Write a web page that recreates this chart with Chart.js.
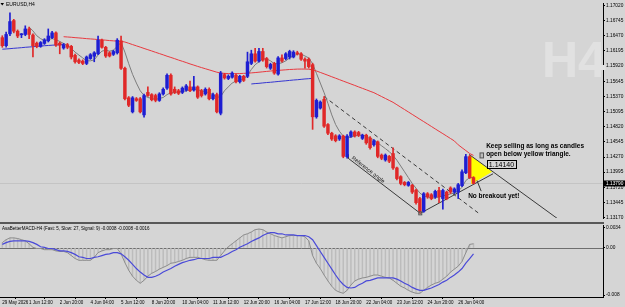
<!DOCTYPE html>
<html lang="en">
<head>
<meta charset="UTF-8">
<title>EURUSD,H4</title>
<script src="https://cdn.jsdelivr.net/npm/chart.js@4"></script>
<style>
  body { margin: 0; background: #d5d5d5; width: 625px; height: 307px; overflow: hidden; position: relative; }
  canvas { position: absolute; left: 0; }
  #main { top: 0; }
  #macd { top: 222px; }
</style>
</head>
<body>
<canvas id="main" width="625" height="222"></canvas>
<canvas id="macd" width="625" height="85"></canvas>
<script>
// H4 candles, bar 0 = 29 May 08:00
const opens = [1.16437,1.16291,1.16507,1.16747,1.16554,1.16489,1.16495,1.16595,1.16484,1.16337,
  1.16279,1.16332,1.16379,1.16437,1.16524,1.16337,1.16249,1.16309,1.16279,1.16116,
  1.16029,1.16011,1.15969,1.16057,1.16099,1.16144,1.16390,1.16262,1.16162,1.16134,
  1.16162,1.16379,1.15881,1.15345,1.15090,1.15328,1.15328,1.15035,1.15443,1.15403,
  1.15386,1.15298,1.15415,1.15521,1.15754,1.15500,1.15473,1.15443,1.15485,1.15543,
  1.15485,1.15543,1.15473,1.15415,1.15500,1.15328,1.15403,1.15065,1.15766,1.15696,
  1.15718,1.15754,1.15636,1.15736,1.15736,1.15969,1.16144,1.16011,1.16186,1.16057,
  1.15881,1.15969,1.15776,1.16069,1.16057,1.16086,1.16086,1.16162,1.16144,1.16046,
  1.16046,1.15946,1.15000,1.15158,1.15316,1.14860,1.14702,1.14655,1.14597,1.14650,
  1.14277,1.14645,1.14725,1.14715,1.14609,1.14667,1.14615,1.14492,1.14545,1.14305,
  1.14217,1.14282,1.14334,1.14072,1.13914,1.13809,1.13756,1.13756,1.13669,1.13516,
  1.13283,1.13604,1.13586,1.13546,1.13663,1.13516,1.13634,1.13709,1.13634,1.13634,
  1.13751,1.13984,1.14277,1.13896];
const highs = [1.16472,1.16537,1.16887,1.16770,1.16577,1.16512,1.16652,1.16630,1.16507,1.16358,
  1.16367,1.16419,1.16595,1.16551,1.16542,1.16358,1.16332,1.16332,1.16297,1.16139,
  1.16051,1.16034,1.16104,1.16148,1.16183,1.16467,1.16411,1.16279,1.16183,1.16209,
  1.16419,1.16467,1.15902,1.15368,1.15368,1.15351,1.15351,1.15412,1.15543,1.15421,
  1.15412,1.15438,1.15526,1.15780,1.15780,1.15543,1.15499,1.15543,1.15587,1.15648,
  1.15736,1.15561,1.15499,1.15526,1.15526,1.15430,1.15430,1.15824,1.15789,1.15762,
  1.15815,1.15780,1.15754,1.15754,1.16174,1.16209,1.16244,1.16244,1.16244,1.16078,
  1.15973,1.15990,1.16095,1.16127,1.16165,1.16209,1.16200,1.16191,1.16165,1.16069,
  1.16069,1.15973,1.15324,1.15289,1.15368,1.14878,1.14720,1.14676,1.14676,1.14667,
  1.14676,1.14746,1.14746,1.14737,1.14685,1.14685,1.14641,1.14588,1.14562,1.14326,
  1.14326,1.14299,1.14439,1.14089,1.13931,1.13826,1.13826,1.13774,1.13686,1.13537,
  1.13625,1.13625,1.13607,1.13669,1.13721,1.13686,1.13651,1.13730,1.13712,1.13791,
  1.14037,1.14317,1.14299,1.13914];
const lows = [1.16262,1.16262,1.16472,1.16524,1.16437,1.16437,1.16472,1.16419,1.16086,1.16253,
  1.16262,1.16314,1.16358,1.16419,1.16279,1.16144,1.16227,1.16235,1.16050,1.15973,
  1.15964,1.15946,1.15946,1.16043,1.15999,1.16130,1.16244,1.16078,1.16086,1.16113,
  1.16139,1.15859,1.15307,1.15184,1.15070,1.15280,1.15070,1.14995,1.15368,1.15289,
  1.15272,1.15280,1.15394,1.15499,1.15394,1.15421,1.15403,1.15421,1.15464,1.15456,
  1.15464,1.15333,1.15359,1.15394,1.15307,1.15307,1.15070,1.15035,1.15683,1.15675,
  1.15701,1.15613,1.15613,1.15640,1.15710,1.15946,1.15990,1.15990,1.16008,1.15885,
  1.15859,1.15771,1.15754,1.15990,1.16034,1.16050,1.16069,1.16121,1.16025,1.15881,
  1.15885,1.14772,1.14974,1.15140,1.14807,1.14676,1.14571,1.14545,1.14571,1.14256,
  1.14247,1.14624,1.14632,1.14641,1.14588,1.14501,1.14413,1.14466,1.14256,1.14221,
  1.14194,1.14168,1.14045,1.13853,1.13765,1.13747,1.13739,1.13607,1.13415,1.13253,
  1.13266,1.13520,1.13494,1.13520,1.13441,1.13324,1.13494,1.13607,1.13607,1.13516,
  1.13730,1.13966,1.13879,1.13783];
const closes = [1.16291,1.16495,1.16729,1.16554,1.16467,1.16498,1.16595,1.16495,1.16291,1.16279,
  1.16349,1.16397,1.16467,1.16524,1.16302,1.16302,1.16309,1.16262,1.16086,1.15999,
  1.15987,1.15969,1.16086,1.16127,1.16162,1.16390,1.16262,1.16104,1.16104,1.16186,
  1.16390,1.15881,1.15328,1.15210,1.15345,1.15298,1.15090,1.15386,1.15386,1.15310,
  1.15298,1.15415,1.15500,1.15754,1.15415,1.15443,1.15426,1.15521,1.15561,1.15473,
  1.15543,1.15356,1.15386,1.15500,1.15328,1.15403,1.15090,1.15794,1.15706,1.15736,
  1.15794,1.15636,1.15736,1.15661,1.15999,1.16144,1.16011,1.16186,1.16029,1.15911,
  1.15951,1.15794,1.16069,1.16011,1.16144,1.16186,1.16174,1.16144,1.16046,1.16011,
  1.15911,1.15000,1.15298,1.15268,1.14830,1.14702,1.14597,1.14567,1.14655,1.14282,
  1.14650,1.14725,1.14655,1.14667,1.14667,1.14527,1.14439,1.14567,1.14282,1.14247,
  1.14305,1.14194,1.14072,1.13879,1.13791,1.13768,1.13809,1.13634,1.13441,1.13283,
  1.13604,1.13546,1.13516,1.13646,1.13546,1.13663,1.13516,1.13634,1.13691,1.13768,
  1.14002,1.14277,1.13896,1.13790];

// moving averages (start index + values)
const redMAStart = 16;
const redMA = [1.16454,1.16449,1.16444,1.16437,1.16432,1.16426,1.16419,1.16414,1.16409,1.16402,
  1.16397,1.16391,1.16384,1.16379,1.16374,1.16370,1.16358,1.16335,1.16311,1.16288,
  1.16265,1.16241,1.16218,1.16195,1.16171,1.16148,1.16125,1.16100,1.16078,1.16055,
  1.16030,1.16008,1.15985,1.15960,1.15938,1.15915,1.15894,1.15873,1.15852,1.15831,
  1.15810,1.15794,1.15789,1.15785,1.15783,1.15783,1.15785,1.15789,1.15792,1.15797,
  1.15803,1.15810,1.15817,1.15824,1.15831,1.15838,1.15843,1.15848,1.15853,1.15859,
  1.15862,1.15866,1.15867,1.15867,1.15864,1.15853,1.15832,1.15806,1.15780,1.15754,
  1.15727,1.15701,1.15675,1.15648,1.15622,1.15596,1.15570,1.15543,1.15517,1.15491,
  1.15464,1.15438,1.15403,1.15368,1.15333,1.15298,1.15263,1.15219,1.15175,1.15132,
  1.15088,1.15044,1.15000,1.14956,1.14913,1.14869,1.14825,1.14781,1.14737,1.14694,
  1.14650,1.14606,1.14562,1.14492,1.14439,1.14387,1.14334,1.14299];
const greyMAStart = 7;
const greyMA = [1.16630,1.16559,1.16472,1.16419,1.16384,1.16402,1.16419,1.16402,1.16367,1.16332,
  1.16297,1.16244,1.16174,1.16121,1.16069,1.16016,1.16016,1.16034,1.16121,1.16192,
  1.16209,1.16192,1.16209,1.16279,1.16349,1.16174,1.15964,1.15771,1.15613,1.15473,
  1.15386,1.15351,1.15333,1.15316,1.15333,1.15351,1.15403,1.15438,1.15438,1.15456,
  1.15456,1.15473,1.15491,1.15508,1.15491,1.15473,1.15456,1.15438,1.15403,1.15351,
  1.15368,1.15473,1.15543,1.15613,1.15648,1.15666,1.15683,1.15754,1.15859,1.15946,
  1.15999,1.16051,1.16051,1.16016,1.15964,1.15964,1.15981,1.16016,1.16069,1.16104,
  1.16139,1.16139,1.16104,1.16069,1.15964,1.15789,1.15613,1.15438,1.15245,1.15035,
  1.14860,1.14737,1.14650,1.14615,1.14632,1.14650,1.14667,1.14667,1.14650,1.14615,
  1.14580,1.14527,1.14474,1.14422,1.14369,1.14299,1.14212,1.14107,1.14002,1.13896,
  1.13791,1.13704,1.13616,1.13564,1.13546,1.13529,1.13529,1.13546,1.13564,1.13581,
  1.13599,1.13616,1.13651,1.13721,1.13844,1.13896,1.13896];
const blueMAStart1 = 0;
const blueMA1 = [1.16227,1.16232,1.16237,1.16244,1.16249,1.16255,1.16262,1.16267,1.16272,1.16279,
  1.16284,1.16290,1.16295,1.16300,1.16304,1.16307,1.16311];
const blueMAStart2 = 65;
const blueMA2 = [1.15596,1.15603,1.15608,1.15615,1.15622,1.15627,1.15634,1.15641,1.15648,1.15654,
  1.15661,1.15668,1.15673,1.15680,1.15687,1.15692,1.15699];

// MACD panel
const macdMain = [0.0009,0.0014,0.0017,0.0017,0.0016,0.0014,0.0012,0.0007,0.0001,-0.0001,
  -0.0001,-0.0003,-0.0003,-0.0003,-0.0005,-0.0006,-0.0006,-0.0008,-0.0013,-0.0018,
  -0.0021,-0.0021,-0.0021,-0.0021,-0.0016,-0.0008,-0.0005,-0.0003,-0.0003,-0.0001,
  -0.0001,-0.0010,-0.0025,-0.0038,-0.0048,-0.0055,-0.0060,-0.0055,-0.0048,-0.0043,
  -0.0040,-0.0036,-0.0033,-0.0030,-0.0026,-0.0025,-0.0023,-0.0021,-0.0018,-0.0016,
  -0.0016,-0.0016,-0.0018,-0.0020,-0.0021,-0.0021,-0.0021,-0.0013,-0.0005,0.0002,
  0.0007,0.0012,0.0017,0.0022,0.0024,0.0027,0.0031,0.0032,0.0031,0.0027,
  0.0024,0.0021,0.0019,0.0017,0.0019,0.0021,0.0021,0.0021,0.0021,0.0019,
  0.0012,-0.0013,-0.0026,-0.0035,-0.0046,-0.0056,-0.0065,-0.0072,-0.0075,-0.0077,
  -0.0072,-0.0063,-0.0056,-0.0053,-0.0051,-0.0050,-0.0048,-0.0046,-0.0046,-0.0048,
  -0.0050,-0.0051,-0.0055,-0.0060,-0.0065,-0.0068,-0.0072,-0.0075,-0.0077,-0.0077,
  -0.0072,-0.0067,-0.0063,-0.0060,-0.0058,-0.0053,-0.0048,-0.0041,-0.0036,-0.0031,
  -0.0023,-0.0008,0.0006,0.0007];
const macdSignal = [0.0006,0.0009,0.0011,0.0012,0.0012,0.0012,0.0012,0.0011,0.0009,0.0006,
  0.0002,0.0001,-0.0001,-0.0001,-0.0003,-0.0005,-0.0005,-0.0006,-0.0008,-0.0011,
  -0.0015,-0.0016,-0.0018,-0.0018,-0.0016,-0.0015,-0.0013,-0.0011,-0.0010,-0.0008,
  -0.0008,-0.0010,-0.0015,-0.0021,-0.0028,-0.0035,-0.0041,-0.0046,-0.0050,-0.0050,
  -0.0048,-0.0045,-0.0041,-0.0038,-0.0035,-0.0031,-0.0028,-0.0025,-0.0023,-0.0021,
  -0.0020,-0.0018,-0.0018,-0.0018,-0.0018,-0.0016,-0.0016,-0.0016,-0.0013,-0.0010,
  -0.0006,-0.0003,0.0001,0.0004,0.0007,0.0011,0.0014,0.0017,0.0021,0.0024,
  0.0026,0.0026,0.0024,0.0024,0.0022,0.0022,0.0022,0.0021,0.0021,0.0021,
  0.0019,0.0014,0.0004,-0.0006,-0.0016,-0.0026,-0.0036,-0.0046,-0.0055,-0.0062,
  -0.0067,-0.0068,-0.0067,-0.0063,-0.0060,-0.0056,-0.0055,-0.0053,-0.0051,-0.0051,
  -0.0051,-0.0051,-0.0051,-0.0053,-0.0056,-0.0060,-0.0063,-0.0067,-0.0070,-0.0072,
  -0.0072,-0.0070,-0.0068,-0.0065,-0.0062,-0.0058,-0.0055,-0.0050,-0.0046,-0.0041,
  -0.0035,-0.0026,-0.0018,-0.0010];

// axes
const priceTicks = [1.17020,1.16745,1.16470,1.16195,1.15920,1.15645,1.15370,1.15095,1.14820,1.14545,1.14270,1.13995,1.13720,1.13445,1.13170];
const macdTicks = [0.0034, 0, -0.008];
const macdTickLabels = ['0.0034', '0.00', '-0.008'];
const timeTickIdx = [0,7,15,23,31,39,47,55,63,71,79,87,95,103,111,119];
const timeTickLabels = ['29 May 2026','1 Jun 12:00','2 Jun 20:00','4 Jun 04:00','5 Jun 12:00','8 Jun 20:00',
  '10 Jun 04:00','11 Jun 12:00','12 Jun 20:00','16 Jun 04:00','17 Jun 12:00','18 Jun 20:00',
  '22 Jun 04:00','23 Jun 12:00','24 Jun 20:00','26 Jun 04:00'];

// drawn objects: [bar index, price]
const line1 = [[84, 1.15368], [124.7, 1.13231]];               // dashed
const line2 = [[90.3, 1.14317], [90.3, 1.14247], [109.1, 1.13248]]; // reference angle
const line3 = [[109.1, 1.13248], [128.1, 1.13966]];            // rising support
const line4 = [[121.85, 1.14317], [145.1, 1.13143]];           // triangle upper edge
const line5 = [[123.9, 1.13844], [125.0, 1.13651]];            // pointer
const triIdx = [121.85, 122.4, 127.86];
const triPrice = [1.14317, 1.13774, 1.14002];
const labelPrice = 1.14140;

const FONT = '"Liberation Sans", Arial, sans-serif';
const BLUE = '#1e1ed2';
const RED = '#e02828';
const XMIN = -0.6, XMAX = 156.8;

Chart.defaults.font.family = FONT;
Chart.defaults.animation = false;

const idx = opens.map((_, i) => i);
const candleColors = idx.map(i => closes[i] >= opens[i] ? BLUE : RED);

function seg(start, arr) {
  return arr.map((v, k) => ({x: start + k, y: v}));
}
function pts(list) {
  return list.map(p => ({x: p[0], y: p[1]}));
}
function lineSet(data, color, dash, order) {
  return {type: 'line', data: data, borderColor: color, borderWidth: 1, borderDash: dash || [],
    pointRadius: 0, fill: false, tension: 0, order: order};
}

const mainDecor = {
  id: 'mainDecor',
  beforeDatasetsDraw(chart) {
    const {ctx, chartArea, scales: {x, y}} = chart;
    ctx.save();
    ctx.font = 'bold 50px ' + FONT;
    ctx.fillStyle = '#e1e1e1';
    ctx.fillText('H4', 542, 77);
    // bid line
    const by = Math.round(y.getPixelForValue(closes[closes.length - 1])) + 0.5;
    ctx.strokeStyle = '#c4c4c4';
    ctx.lineWidth = 1;
    ctx.beginPath();
    ctx.moveTo(chartArea.left, by);
    ctx.lineTo(chartArea.right, by);
    ctx.stroke();
    // yellow triangle
    ctx.beginPath();
    triIdx.forEach((v, k) => {
      const px = x.getPixelForValue(v), py = y.getPixelForValue(triPrice[k]);
      if (k === 0) ctx.moveTo(px, py); else ctx.lineTo(px, py);
    });
    ctx.closePath();
    ctx.fillStyle = '#ffff00';
    ctx.fill();
    ctx.restore();
  },
  afterDatasetsDraw(chart) {
    const {ctx, scales: {x, y}} = chart;
    ctx.save();
    ctx.fillStyle = '#000';
    ctx.textBaseline = 'middle';
    ctx.font = 'bold 6.5px ' + FONT;
    ctx.fillText('Keep selling as long as candles', x.getPixelForValue(126.3), y.getPixelForValue(1.14474));
    ctx.fillText('open below yellow triangle.', x.getPixelForValue(126.3), y.getPixelForValue(1.14317));
    ctx.fillText('No breakout yet!', x.getPixelForValue(121.6), y.getPixelForValue(1.13564));
    // price label object
    const lx = x.getPixelForValue(126.6), ly = y.getPixelForValue(labelPrice);
    ctx.strokeStyle = '#000';
    ctx.lineWidth = 1;
    ctx.strokeRect(Math.round(lx) + 0.5, Math.round(ly - 4.5) + 0.5, 29, 8);
    ctx.font = '7px ' + FONT;
    ctx.fillText(labelPrice.toFixed(5), lx + 1.5, ly + 0.5);
    const ax = x.getPixelForValue(124.7), ay = y.getPixelForValue(1.14299);
    ctx.fillStyle = '#bdbdbd';
    ctx.fillRect(ax, ay - 2.5, 3.5, 5);
    ctx.strokeStyle = '#555';
    ctx.strokeRect(ax, ay - 2.5, 3.5, 5);
    const cx = x.getPixelForValue(109.1), cy = y.getPixelForValue(1.13248);
    ctx.strokeRect(cx - 1.5, cy - 1.5, 3, 3);
    // reference angle text
    ctx.translate(x.getPixelForValue(95.5), y.getPixelForValue(1.14037));
    ctx.rotate(38 * Math.PI / 180);
    ctx.font = '5.5px ' + FONT;
    ctx.fillStyle = '#222';
    ctx.textAlign = 'center';
    ctx.fillText('Reference angle', 0, 0);
    ctx.restore();
  },
  afterDraw(chart) {
    const {ctx, chartArea, scales: {y}} = chart;
    ctx.save();
    ctx.fillStyle = '#000';
    ctx.textBaseline = 'middle';
    ctx.font = '5px ' + FONT;
    ctx.fillText('EURUSD,H4', 6, 4.5);
    ctx.beginPath();
    ctx.moveTo(0.5, 3); ctx.lineTo(4, 3); ctx.lineTo(2.25, 5.5); ctx.closePath();
    ctx.fill();
    const py = y.getPixelForValue(closes[closes.length - 1]);
    ctx.fillRect(chartArea.right + 1, py - 3, 21, 6);
    ctx.fillStyle = '#fff';
    ctx.font = '4.8px ' + FONT;
    ctx.fillText(closes[closes.length - 1].toFixed(5), chartArea.right + 3, py + 0.3);
    ctx.restore();
  }
};

new Chart(document.getElementById('main'), {
  type: 'bar',
  data: {
    datasets: [
      {type: 'bar', data: idx.map(i => ({x: i, y: [opens[i], closes[i]]})), backgroundColor: candleColors,
        barThickness: 2.8, minBarLength: 1, grouped: false, order: 0},
      {type: 'bar', data: idx.map(i => ({x: i, y: [lows[i], highs[i]]})), backgroundColor: candleColors,
        barThickness: 1, grouped: false, order: 1},
      lineSet(seg(redMAStart, redMA), '#e8393f', null, 2),
      lineSet(seg(greyMAStart, greyMA), '#7c7c7c', null, 2),
      lineSet(seg(blueMAStart1, blueMA1), '#3535d0', null, 2),
      lineSet(seg(blueMAStart2, blueMA2), '#3535d0', null, 2),
      lineSet(pts(line1), '#3a3a3a', [4, 3], 3),
      lineSet(pts(line2), '#3a3a3a', null, 3),
      lineSet(pts(line3), '#3a3a3a', null, 3),
      lineSet(pts(line4), '#3a3a3a', null, 3),
      lineSet(pts(line5), '#3a3a3a', null, 3)
    ]
  },
  options: {
    responsive: false,
    events: [],
    layout: {padding: 0},
    plugins: {legend: {display: false}, tooltip: {enabled: false}},
    scales: {
      x: {type: 'linear', min: XMIN, max: XMAX, display: false, offset: false},
      y: {
        type: 'linear', position: 'right', min: 1.13161, max: 1.17050,
        afterFit(s) { s.width = 22; },
        afterBuildTicks(s) { s.ticks = priceTicks.map(v => ({value: v})); },
        ticks: {autoSkip: false, padding: 1, color: '#000', font: {size: 4.8},
          callback: v => v.toFixed(5)},
        grid: {drawOnChartArea: false, tickLength: 2, color: '#000'},
        border: {display: true, color: '#000'}
      }
    }
  },
  plugins: [mainDecor]
});

const macdDecor = {
  id: 'macdDecor',
  beforeDatasetsDraw(chart) {
    const {ctx, chartArea, scales: {y}} = chart;
    ctx.save();
    const zy = Math.round(y.getPixelForValue(0)) + 0.5;
    ctx.strokeStyle = '#6e6e6e';
    ctx.beginPath();
    ctx.moveTo(chartArea.left, zy);
    ctx.lineTo(chartArea.right, zy);
    ctx.stroke();
    ctx.restore();
  },
  afterDraw(chart) {
    const {ctx, chartArea} = chart;
    ctx.save();
    ctx.fillStyle = '#585858';
    ctx.fillRect(0, 0, chartArea.right + 1, 2);
    ctx.fillStyle = '#000';
    ctx.textBaseline = 'middle';
    ctx.font = '4.5px ' + FONT;
    ctx.fillText('AsaBetterMACD-H4 (Fast: 5, Slow: 27, Signal: 9) -0.0008 -0.0008 -0.0016', 2, 7);
    ctx.restore();
  }
};

new Chart(document.getElementById('macd'), {
  type: 'bar',
  data: {
    datasets: [
      {type: 'bar', data: idx.map(i => ({x: i, y: macdMain[i]})), backgroundColor: '#bcbcbc',
        barThickness: 0.8, grouped: false, order: 3},
      lineSet(idx.map(i => ({x: i, y: macdMain[i]})), '#8c8c8c', null, 2),
      {...lineSet(idx.map(i => ({x: i, y: macdSignal[i]})), '#4a4ad8', null, 1), borderWidth: 1.2}
    ]
  },
  options: {
    responsive: false,
    events: [],
    layout: {padding: {top: 3}},
    plugins: {legend: {display: false}, tooltip: {enabled: false}},
    scales: {
      x: {
        type: 'linear', min: XMIN, max: XMAX, offset: false,
        afterFit(s) { s.height = 10; },
        afterBuildTicks(s) { s.ticks = timeTickIdx.map(v => ({value: v})); },
        ticks: {autoSkip: false, maxRotation: 0, minRotation: 0, align: 'start', padding: 1,
          color: '#000', font: {size: 4.5},
          callback: v => timeTickLabels[timeTickIdx.indexOf(v)]},
        grid: {drawOnChartArea: false, tickLength: 2, color: '#000'},
        border: {display: true, color: '#000'}
      },
      y: {
        type: 'linear', position: 'right', min: -0.00833, max: 0.00374,
        afterFit(s) { s.width = 22; },
        afterBuildTicks(s) { s.ticks = macdTicks.map(v => ({value: v})); },
        ticks: {autoSkip: false, padding: 1, color: '#000', font: {size: 4.8},
          callback: v => macdTickLabels[macdTicks.indexOf(v)]},
        grid: {drawOnChartArea: false, tickLength: 2, color: '#000'},
        border: {display: true, color: '#000'}
      }
    }
  },
  plugins: [macdDecor]
});
</script>
</body>
</html>
